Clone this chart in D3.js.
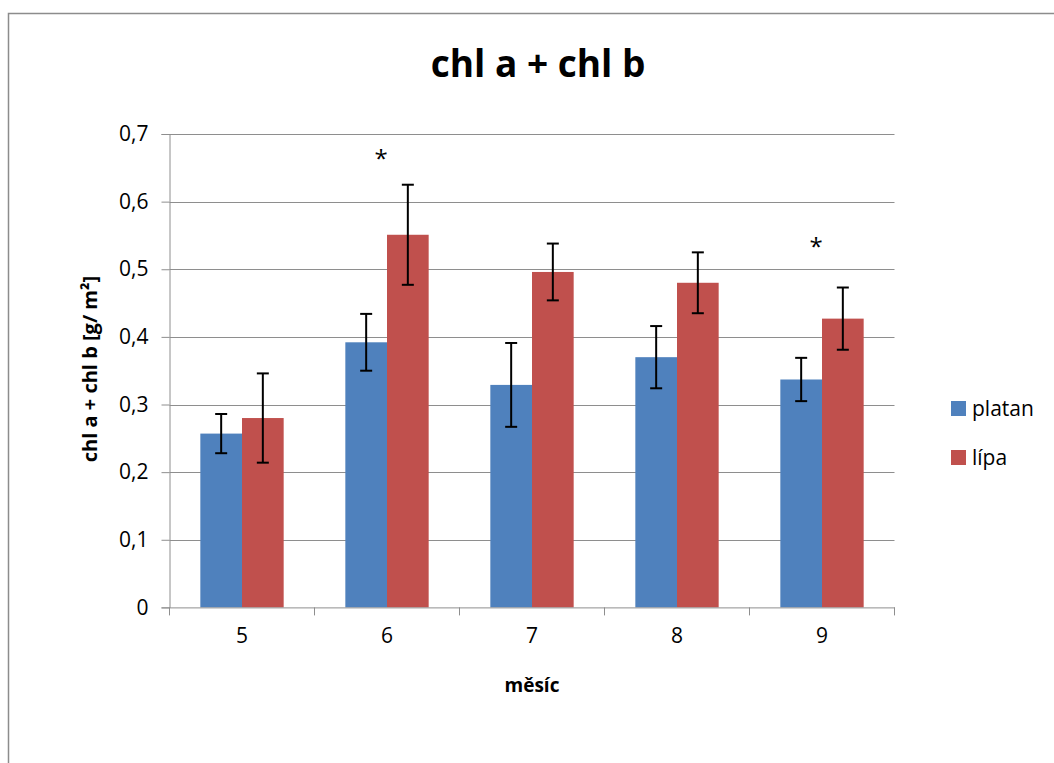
<!DOCTYPE html>
<html>
<head>
<meta charset="utf-8">
<script src="https://cdn.jsdelivr.net/npm/d3@7"></script>
<style>
  body { margin: 0; background: #fff; }
  svg { display: block; font-family: 'Open Sans', Lato, sans-serif; }
</style>
</head>
<body>
<div id="main"></div>
<script>
'use strict';

// data
const months = ['5', '6', '7', '8', '9'];
const seriesNames = ['platan', 'lípa'];
const platan = [0.257, 0.392, 0.329, 0.370, 0.337];
const lipa = [0.280, 0.551, 0.496, 0.480, 0.427];
const platanErr = [0.029, 0.042, 0.062, 0.046, 0.032];
const lipaErr = [0.066, 0.074, 0.042, 0.045, 0.046];
const stars = ['', '*', '', '', '*'];
const starLevel = [0, 0.672, 0, 0, 0.542];
const yTicks = [0, 0.1, 0.2, 0.3, 0.4, 0.5, 0.6, 0.7];

// configuration
const canvas = { width: 1054, height: 763 };
const plot = { left: 169.5, right: 894.5, top: 134, bottom: 607.4 };
const colors = ['#4f81bd', '#c0504d'];

const svg = d3.select('#main').append('svg')
  .attr('width', canvas.width)
  .attr('height', canvas.height);

// chart frame (top + left edge visible)
svg.append('path')
  .attr('d', 'M8.5,780 V13.5 H1060')
  .attr('fill', 'none')
  .attr('stroke', '#8c8c8c')
  .attr('stroke-width', 1.5);

const x = d3.scaleBand().domain(months).range([plot.left, plot.right]).padding(0);
const xInner = d3.scaleBand().domain(seriesNames).range([0, x.bandwidth()]).paddingInner(0).paddingOuter(0.74);
const y = d3.scaleLinear().domain([0, 0.7]).range([plot.bottom, plot.top]);

const fmt = d => d === 0 ? '0' : d.toFixed(1).replace('.', ',');

// gridlines
svg.append('g').selectAll('line')
  .data(yTicks.slice(1))
  .join('line')
  .attr('x1', plot.left).attr('x2', plot.right)
  .attr('y1', d => Math.round(y(d)) + 0.5).attr('y2', d => Math.round(y(d)) + 0.5)
  .attr('stroke', '#8e8e8e').attr('stroke-width', 1);

// y axis
const yAxis = svg.append('g')
  .attr('transform', 'translate(' + plot.left + ',0)')
  .call(d3.axisLeft(y).tickValues(yTicks).tickFormat(fmt).tickSize(8).tickPadding(13));
yAxis.select('.domain').attr('stroke', '#8e8e8e');
yAxis.selectAll('.tick line').attr('stroke', '#8e8e8e');
yAxis.selectAll('.tick text').attr('font-size', 21).attr('fill', '#000').attr('font-family', 'Open Sans');

// bars
const series = [platan, lipa];
const errs = [platanErr, lipaErr];
series.forEach((vals, si) => {
  svg.append('g').selectAll('rect')
    .data(vals)
    .join('rect')
    .attr('x', (d, i) => x(months[i]) + xInner(seriesNames[si]))
    .attr('width', xInner.bandwidth())
    .attr('y', d => y(d))
    .attr('height', d => y(0) - y(d))
    .attr('fill', colors[si]);
});

// error bars
series.forEach((vals, si) => {
  const g = svg.append('g').attr('stroke', '#000').attr('stroke-width', 2);
  vals.forEach((v, i) => {
    const cx = x(months[i]) + xInner(seriesNames[si]) + xInner.bandwidth() / 2;
    const e = errs[si][i];
    g.append('line').attr('x1', cx).attr('x2', cx).attr('y1', y(v + e)).attr('y2', y(v - e));
    g.append('line').attr('x1', cx - 6).attr('x2', cx + 6).attr('y1', y(v + e)).attr('y2', y(v + e));
    g.append('line').attr('x1', cx - 6).attr('x2', cx + 6).attr('y1', y(v - e)).attr('y2', y(v - e));
  });
});

// x axis
const xAxis = svg.append('g')
  .attr('transform', 'translate(0,' + plot.bottom + ')')
  .call(d3.axisBottom(x).tickSize(0).tickPadding(21));
xAxis.select('.domain').attr('stroke', '#8e8e8e');
xAxis.selectAll('.tick text').attr('font-size', 21).attr('fill', '#000').attr('font-family', 'Open Sans');
svg.append('g').selectAll('line')
  .data(months.concat(['end']))
  .join('line')
  .attr('x1', (d, i) => i < months.length ? x(d) : plot.right)
  .attr('x2', (d, i) => i < months.length ? x(d) : plot.right)
  .attr('y1', plot.bottom).attr('y2', plot.bottom + 8)
  .attr('stroke', '#8e8e8e');

// significance marks
svg.append('g').selectAll('text')
  .data(stars)
  .join('text')
  .attr('x', (d, i) => x(months[i]) + x.bandwidth() / 2 - 6)
  .attr('y', (d, i) => y(starLevel[i]) + 14)
  .attr('text-anchor', 'middle')
  .attr('font-size', 24)
  .text(d => d);

// titles
svg.append('text')
  .attr('x', 538).attr('y', 77)
  .attr('text-anchor', 'middle')
  .attr('font-size', 37).attr('font-weight', 'bold')
  .text('chl a + chl b');

svg.append('text')
  .attr('x', (plot.left + plot.right) / 2).attr('y', 692)
  .attr('text-anchor', 'middle')
  .attr('font-size', 19).attr('font-weight', 'bold')
  .text('měsíc');

svg.append('text')
  .attr('transform', 'translate(97,' + 369 + ') rotate(-90)')
  .attr('text-anchor', 'middle')
  .attr('font-size', 20).attr('font-weight', 'bold')
  .text('chl a + chl b [g/ m²]');

// legend
const legend = svg.append('g').attr('transform', 'translate(951,401)');
seriesNames.forEach((name, i) => {
  legend.append('rect')
    .attr('x', 0).attr('y', i * 49)
    .attr('width', 15).attr('height', 15)
    .attr('fill', colors[i]);
  legend.append('text')
    .attr('x', 21).attr('y', i * 49 + 15)
    .attr('font-size', 21)
    .text(name);
});
</script>
</body>
</html>
